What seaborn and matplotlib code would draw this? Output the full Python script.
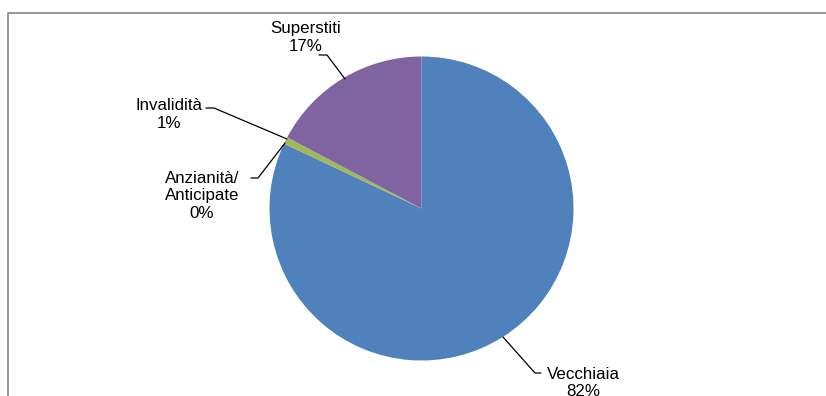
import matplotlib
matplotlib.use("Agg")
import matplotlib.pyplot as plt
import seaborn as sns

categories = ["Vecchiaia", "Anzianità/\nAnticipate", "Invalidità", "Superstiti"]
values = [82.0, 0.05, 0.7, 17.25]
colors = ["#4F81BD", "#C0504D", "#9BBB59", "#8064A2"]

sns.set_theme(style="white")
plt.rcParams["font.family"] = ["Liberation Sans", "DejaVu Sans"]

W, H = 826, 396
fig = plt.figure(figsize=(W / 100, H / 100), dpi=100)
ax = fig.add_axes([0, 0, 1, 1])

cx, cy, r = 421.5, H - 208.5, 152
ax.pie(values, colors=colors, startangle=90, counterclock=False,
       center=(cx, cy), radius=r, frame=True,
       wedgeprops=dict(linewidth=0))
ax.set_xlim(0, W)
ax.set_ylim(0, H)
ax.set_aspect("equal")
ax.axis("off")

total = sum(values)
pct = [f"{round(v / total * 100):d}%" for v in values]

def Y(y):
    return H - y

fs = 12.2
# (center x, top of first line, text, leader line) in pixel coords, top-origin
labels = [
    (583, 367, categories[0] + "\n" + pct[0], [(503, 337), (535, 373), (541, 373)]),
    (202, 171, categories[1] + "\n" + pct[1], [(285, 143), (258, 178), (251, 178)]),
    (169, 98.5, categories[2] + "\n" + pct[2], [(287, 139), (214, 108), (206, 108)]),
    (306, 21.5, categories[3] + "\n" + pct[3], [(345, 79), (327, 55), (319, 55)]),
]
for x, y, txt, line in labels:
    ax.text(x, Y(y), txt, ha="center", va="top",
            fontsize=fs, color="black", linespacing=1.2)
    ax.plot([p[0] for p in line], [Y(p[1]) for p in line], color="black", lw=0.9)

# chart frame
ax.plot([8, 8, W + 5], [-5, Y(12.5), Y(12.5)], color="#868686", lw=1.2, clip_on=False)

fig.savefig("out.png", dpi=100)
